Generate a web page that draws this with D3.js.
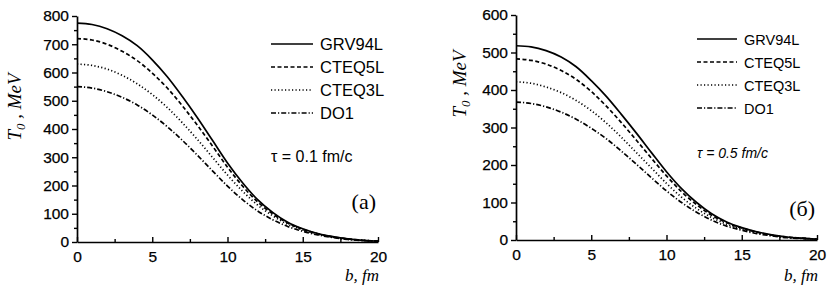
<!DOCTYPE html>
<html>
<head>
<meta charset="utf-8">
<script src="https://cdn.jsdelivr.net/npm/d3@7"></script>
<style>
  body { margin: 0; background: #fff; }
  svg { display: block; }
  .tick text { font-family: Arial, "Liberation Sans", sans-serif; font-size: 15.5px; fill: #000; stroke: #000; stroke-width: 0.25; }
  .curve { fill: none; stroke: #000; stroke-width: 1.7; }
</style>
</head>
<body>
<svg id="chart" width="827" height="285"></svg>
<script>
var b_values = [0, 1, 2, 3, 4, 5, 6, 7, 8, 9, 10, 11, 12, 13, 14, 15, 16, 17, 18, 19, 20];
var series_names = ['GRV94L', 'CTEQ5L', 'CTEQ3L', 'DO1'];
var dashes = ['none', '4,2.5', '1.2,2.3', '5,2,1.2,2'];

// panel (a), tau = 0.1 fm/c
var grv_a   = [775, 770, 755, 730, 695, 645, 585, 515, 440, 360, 280, 210, 150, 105, 70, 47, 30, 19, 11, 6, 3];
var cteq5_a = [720, 715, 700, 675, 642, 598, 545, 482, 413, 340, 265, 198, 142, 100, 67, 45, 29, 18, 11, 6, 3];
var cteq3_a = [630, 625, 612, 590, 560, 522, 476, 422, 363, 300, 237, 180, 131, 93, 63, 43, 28, 17, 10, 6, 3];
var do1_a   = [550, 545, 532, 512, 485, 450, 408, 360, 307, 252, 198, 150, 110, 79, 55, 38, 25, 16, 9, 5, 3];

// panel (б), tau = 0.5 fm/c
var grv_b   = [518, 515, 505, 488, 462, 425, 383, 335, 285, 233, 182, 137, 100, 70, 48, 33, 22, 14, 8, 5, 2];
var cteq5_b = [483, 479, 469, 452, 428, 396, 357, 313, 266, 218, 171, 129, 94, 66, 46, 32, 21, 13, 8, 5, 2];
var cteq3_b = [422, 418, 408, 393, 372, 345, 312, 274, 233, 192, 151, 114, 84, 60, 42, 29, 19, 12, 7, 4, 2];
var do1_b   = [368, 364, 355, 341, 322, 298, 270, 237, 202, 166, 131, 100, 74, 53, 37, 26, 17, 11, 6, 4, 2];

var x_ticks = [0, 5, 10, 15, 20];
var y_ticks_a = [0, 100, 200, 300, 400, 500, 600, 700, 800];
var y_ticks_b = [0, 100, 200, 300, 400, 500, 600];

var svg = d3.select('#chart');

function plot_panel(p) {
	var g = svg.append('g');
	var x = d3.scaleLinear().domain([0, 20]).range([p.left, p.right]);
	var y = d3.scaleLinear().domain([0, p.ymax]).range([p.bottom, p.top]);

	// minor ticks
	g.append('g')
		.attr('transform', 'translate(' + p.left + ',0)')
		.call(d3.axisLeft(y).tickValues(d3.range(50, p.ymax, 100)).tickSize(3).tickFormat(''))
		.call(function(s) { s.select('.domain').remove(); });
	g.append('g')
		.attr('transform', 'translate(0,' + p.bottom + ')')
		.call(d3.axisTop(x).tickValues([2.5, 7.5, 12.5, 17.5]).tickSize(3).tickFormat(''))
		.call(function(s) { s.select('.domain').remove(); });

	g.append('g')
		.attr('transform', 'translate(' + p.left + ',0)')
		.call(d3.axisLeft(y).tickValues(p.yticks).tickSize(5).tickPadding(3).tickSizeOuter(0));
	var xa = g.append('g')
		.attr('transform', 'translate(0,' + p.bottom + ')')
		.call(d3.axisBottom(x).tickValues(x_ticks).tickSize(0).tickPadding(9).tickSizeOuter(0));
	xa.append('g').call(d3.axisTop(x).tickValues(x_ticks).tickSize(5).tickFormat(''))
		.call(function(s) { s.select('.domain').remove(); });
	g.selectAll('.domain').attr('stroke-width', 1.7);
	g.selectAll('.tick line').attr('stroke-width', 1.4);

	var line = d3.line()
		.x(function(d, i) { return x(b_values[i]); })
		.y(function(d) { return y(d); })
		.curve(d3.curveMonotoneX);

	p.series.forEach(function(d, i) {
		g.append('path')
			.datum(d)
			.attr('class', 'curve')
			.attr('d', line)
			.attr('stroke-dasharray', dashes[i]);
	});

	// legend
	series_names.forEach(function(name, i) {
		var ly = p.legY + i * p.legStep;
		g.append('line')
			.attr('x1', p.legX).attr('x2', p.legX + p.legLen)
			.attr('y1', ly).attr('y2', ly)
			.attr('class', 'curve')
			.attr('stroke-dasharray', dashes[i]);
		g.append('text')
			.attr('x', p.legX + p.legLen + 7).attr('y', ly + 6)
			.attr('font-family', 'Arial, "Liberation Sans", sans-serif')
			.attr('font-size', p.legFont)
			.text(name);
	});

	g.append('text')
		.attr('x', p.legX).attr('y', p.tauY)
		.attr('font-family', 'Arial, "Liberation Sans", sans-serif')
		.attr('font-size', p.legFont - 0.5)
		.attr('font-style', p.tauItalic ? 'italic' : 'normal')
		.text('\u03c4 = ' + p.tau + ' fm/c');

	g.append('text')
		.attr('x', p.right - 2).attr('y', p.labY)
		.attr('text-anchor', 'end')
		.attr('font-family', '"Liberation Serif", "Times New Roman", serif')
		.attr('font-size', 22)
		.text(p.label);

	// axis titles
	g.append('text')
		.attr('x', p.right + 1).attr('y', 281)
		.attr('text-anchor', 'end')
		.attr('font-family', '"Liberation Serif", "Times New Roman", serif')
		.attr('font-style', 'italic')
		.attr('font-size', 17)
		.text('b, fm');

	var yt = g.append('text')
		.attr('transform', 'translate(' + p.ytX + ',' + p.ytY + ') rotate(-90)')
		.attr('text-anchor', 'middle')
		.attr('font-family', '"Liberation Serif", "Times New Roman", serif')
		.attr('font-style', 'italic')
		.attr('font-size', 19);
	yt.append('tspan').text('T');
	yt.append('tspan').attr('dy', 4).attr('font-size', 13).text('0');
	yt.append('tspan').attr('dy', -4).text(' , MeV');
}

plot_panel({
	left: 77, right: 378, top: 16, bottom: 242, ymax: 800, yticks: y_ticks_a,
	series: [grv_a, cteq5_a, cteq3_a, do1_a],
	legX: 271, legY: 44, legStep: 23, legLen: 42, legFont: 16.5,
	tauY: 162, tau: '0.1', tauItalic: false,
	label: '(a)', labY: 209, ytX: 21, ytY: 107
});
plot_panel({
	left: 516, right: 817, top: 15, bottom: 240, ymax: 600, yticks: y_ticks_b,
	series: [grv_b, cteq5_b, cteq3_b, do1_b],
	legX: 697, legY: 39, legStep: 23, legLen: 40, legFont: 14.5,
	tauY: 158, tau: '0.5', tauItalic: true,
	label: '(\u0431)', labY: 216, ytX: 466, ytY: 84
});
</script>
</body>
</html>
